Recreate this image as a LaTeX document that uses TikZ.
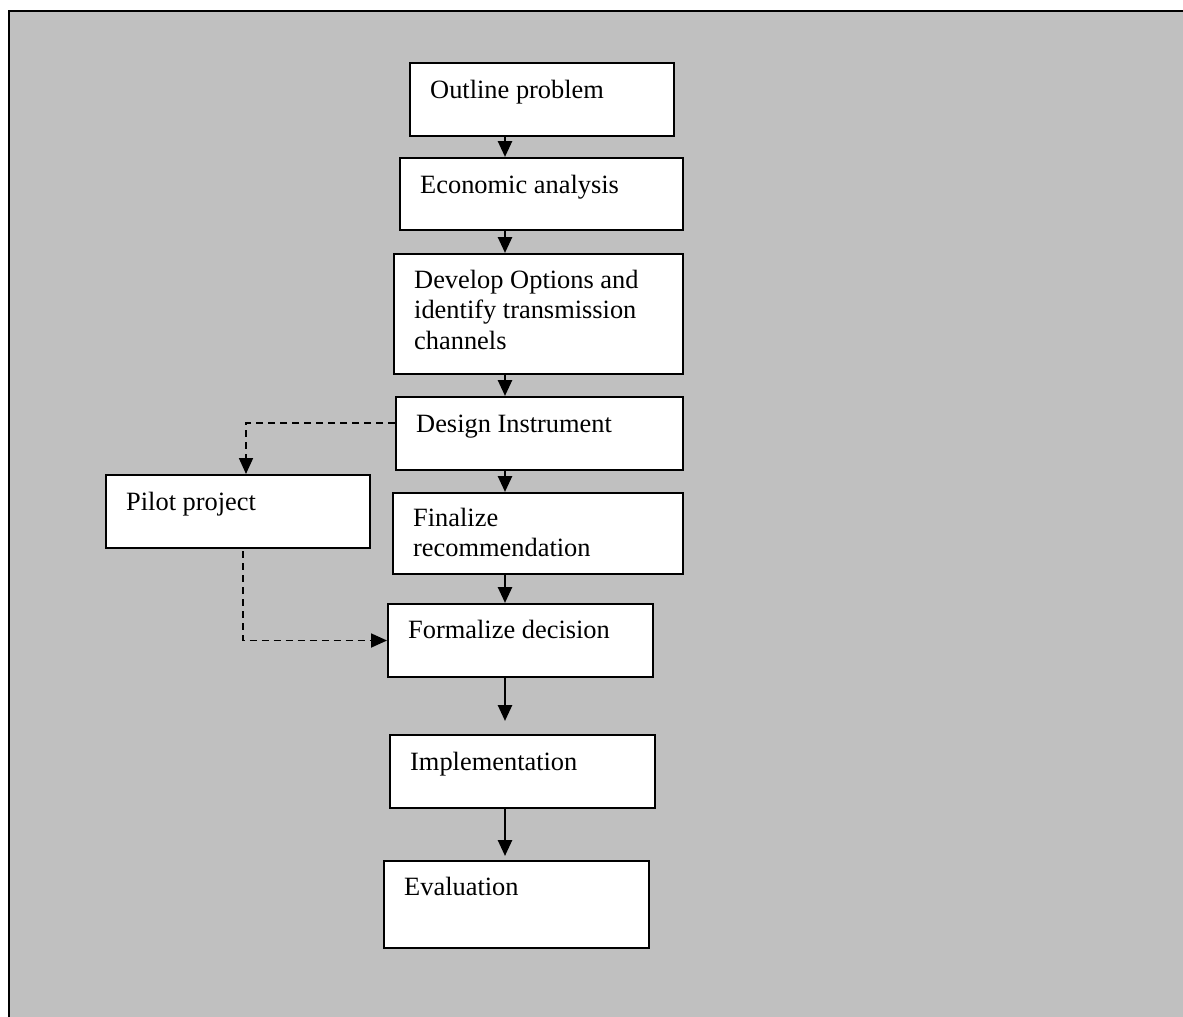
\documentclass[tikz,border=0pt]{standalone}
\usepackage{fontspec}
\setmainfont{Liberation Serif}
\usetikzlibrary{arrows.meta,calc}

\definecolor{panel}{HTML}{C0C0C0}

\tikzset{
  stagebox/.style={draw=black, fill=white, line width=2pt, inner sep=0pt, anchor=north west},
  stagetext/.style={inner sep=0pt, anchor=base west, font=\fontsize{26.4}{30.5}\selectfont},
  flowarrow/.style={line width=2.6pt, -{Triangle[length=16pt,width=14pt]}},
  sidearrow/.style={line width=1.8pt, dash pattern=on 7pt off 5pt, -{Triangle[length=16pt,width=14pt]}},
}

% one box: name, top-left corner, width, height, baseline drop, text
\newcommand\stage[7]{%
  \node[stagebox, minimum width=#4pt, minimum height=#5pt] (#1) at (#2,#3) {};
  \node[stagetext] (#1-t) at ($(#1.north west)+(21,#6)$) {\parbox[t]{260pt}{\raggedright #7}};
}

\begin{document}
\begin{tikzpicture}[x=1pt,y=-1pt]
  \useasboundingbox (0,0) rectangle (1183,1017);
  \fill[white] (0,0) rectangle (1183,1017);
  \begin{scope}
    \clip (0,0) rectangle (1183,1017);
    \draw[fill=panel, line width=2pt] (9,11) rectangle (1200,1040);
  \end{scope}

  % main sequence
  \stage{o}{409}{62}{264}{73}{36}{Outline problem}
  \stage{e}{399}{157}{283}{72}{36}{Economic analysis}
  \stage{dv}{393}{253}{289}{120}{35}{Develop Options and\\identify transmission\\channels}
  \stage{d}{395}{396}{287}{73}{36}{Design Instrument}
  \stage{p}{105}{474}{264}{73}{36}{Pilot project}
  \stage{fi}{392}{492}{290}{81}{34}{Finalize\\recommendation}
  \stage{fm}{387}{603}{265}{73}{35}{Formalize decision}
  \stage{im}{389}{734}{265}{73}{36}{Implementation}
  \stage{ev}{383}{860}{265}{87}{35}{Evaluation}

  % column of the main arrows
  \coordinate (ax) at (505,0);

  \draw[flowarrow] (o.south -| ax) -- (e.north -| ax);
  \draw[flowarrow] (e.south -| ax) -- (dv.north -| ax);
  \draw[flowarrow] (dv.south -| ax) -- (d.north -| ax);
  \draw[flowarrow] (d.south -| ax) -- (fi.north -| ax);
  \draw[flowarrow] (fi.south -| ax) -- (fm.north -| ax);
  \draw[flowarrow] (fm.south -| ax) -- ($(im.north -| ax)+(0,-13)$);
  \draw[flowarrow] (im.south -| ax) -- ($(ev.north -| ax)+(0,-4)$);

  % optional pilot branch
  \draw[sidearrow] ($(d.north west)+(0,27)$) -| ($(p.north west)+(141,0)$);
  \draw[sidearrow] ($(p.south west)+(138,2)$) |- (fm.west);
\end{tikzpicture}
\end{document}
